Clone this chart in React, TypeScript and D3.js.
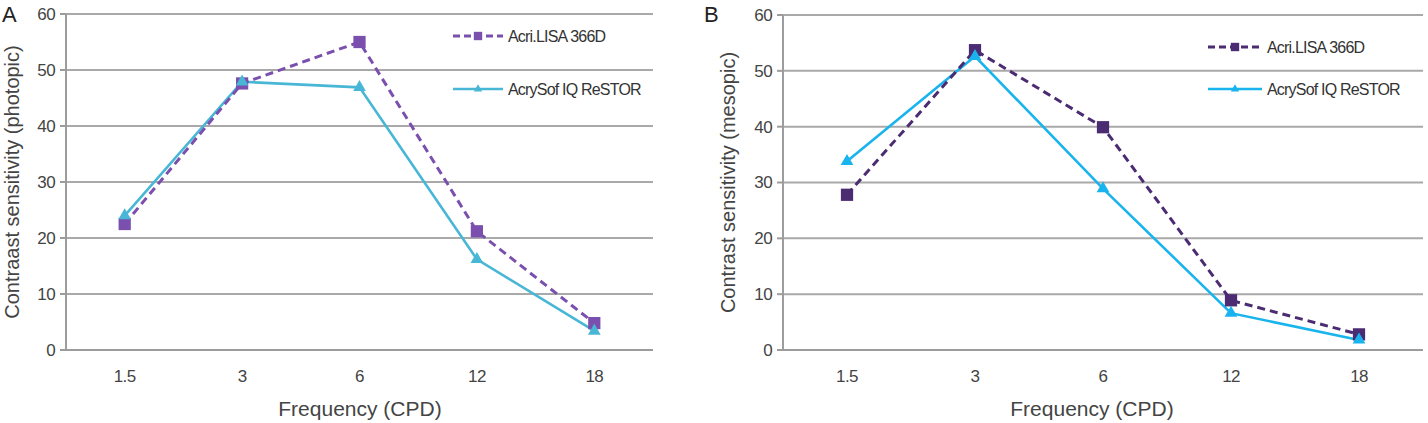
import React from "react";
import * as d3 from "d3";

// spatial frequencies (cycles per degree)
const frequencies = ["1.5", "3", "6", "12", "18"];
const yTicks = [0, 10, 20, 30, 40, 50, 60];
const seriesNames = ["Acri.LISA 366D", "AcrySof IQ ReSTOR"];

// panel A - photopic
const photopicAcri = [22.5, 47.6, 55, 21.2, 4.8];
const photopicRestor = [24, 47.9, 46.9, 16.2, 3.4];

// panel B - mesopic
const mesopicAcri = [27.8, 53.7, 39.9, 8.9, 2.8];
const mesopicRestor = [33.8, 52.6, 28.9, 6.6, 1.8];

const FONT = "'Liberation Sans', Arial, Helvetica, sans-serif";

type PanelProps = {
  label: string;
  labelX: number;
  yTitle: string;
  acri: number[];
  restor: number[];
  left: number;
  right: number;
  top: number;
  bottom: number;
  xTitleX: number;
  yTitleX: number;
  legend: { x0: number; x1: number; rows: number[] };
  acriColor: string;
  restorColor: string;
};

function Panel(p: PanelProps) {
  const x = d3.scaleBand().domain(frequencies).range([p.left, p.right]);
  const y = d3.scaleLinear().domain([0, 60]).range([p.bottom, p.top]);
  const cx = (i: number) => x(frequencies[i])! + x.bandwidth() / 2;

  const line = d3
    .line<number>()
    .x((_, i) => cx(i))
    .y((d) => y(d));

  const square = d3.symbol(d3.symbolSquare, 150)();
  const triangle = d3.symbol(d3.symbolTriangle, 70)();
  const smallSquare = d3.symbol(d3.symbolSquare, 70)();
  const smallTriangle = d3.symbol(d3.symbolTriangle, 30)();

  const midY = (p.top + p.bottom) / 2;
  const lg = p.legend;

  return (
    <g>
      <text x={p.labelX} y={22} fontSize={22} fill="#222" fontFamily={FONT}>
        {p.label}
      </text>

      {/* grid */}
      {yTicks.slice(1).map((t) => (
        <line key={t} x1={p.left} x2={p.right} y1={y(t)} y2={y(t)} stroke="#a9a9a9" strokeWidth={2} />
      ))}
      {/* axes */}
      <line x1={p.left} x2={p.left} y1={p.top} y2={p.bottom} stroke="#9c9c9c" strokeWidth={2} />
      <line x1={p.left - 6} x2={p.right} y1={p.bottom} y2={p.bottom} stroke="#9c9c9c" strokeWidth={2} />
      {yTicks.map((t) => (
        <g key={t}>
          <line x1={p.left - 6} x2={p.left} y1={y(t)} y2={y(t)} stroke="#9c9c9c" strokeWidth={2} />
          <text
            x={p.left - 11}
            y={y(t)}
            dy="0.35em"
            textAnchor="end"
            fontSize={17}
            letterSpacing={-0.6}
            fill="#444"
            fontFamily={FONT}
          >
            {t}
          </text>
        </g>
      ))}
      {frequencies.map((f, i) => (
        <text
          key={f}
          x={cx(i)}
          y={p.bottom + 32}
          textAnchor="middle"
          fontSize={17}
          letterSpacing={-0.6}
          fill="#444"
          fontFamily={FONT}
        >
          {f}
        </text>
      ))}

      {/* titles */}
      <text
        x={p.xTitleX}
        y={p.bottom + 66}
        textAnchor="middle"
        fontSize={21}
        fill="#444"
        fontFamily={FONT}
      >
        Frequency (CPD)
      </text>
      <text
        transform={`translate(${p.yTitleX},${midY}) rotate(-90)`}
        textAnchor="middle"
        fontSize={20}
        fill="#444"
        fontFamily={FONT}
      >
        {p.yTitle}
      </text>

      {/* series */}
      <path d={line(p.restor)!} fill="none" stroke={p.restorColor} strokeWidth={2.6} />
      <path d={line(p.acri)!} fill="none" stroke={p.acriColor} strokeWidth={3} strokeDasharray="8,5" />
      {p.acri.map((v, i) => (
        <path key={"a" + i} d={square!} transform={`translate(${cx(i)},${y(v)})`} fill={p.acriColor} />
      ))}
      {p.restor.map((v, i) => (
        <path key={"r" + i} d={triangle!} transform={`translate(${cx(i)},${y(v)})`} fill={p.restorColor} />
      ))}

      {/* legend */}
      <line x1={lg.x0} x2={lg.x1} y1={lg.rows[0]} y2={lg.rows[0]} stroke={p.acriColor} strokeWidth={3} strokeDasharray="7,4" />
      <path d={smallSquare!} transform={`translate(${(lg.x0 + lg.x1) / 2},${lg.rows[0]})`} fill={p.acriColor} />
      <line x1={lg.x0} x2={lg.x1} y1={lg.rows[1]} y2={lg.rows[1]} stroke={p.restorColor} strokeWidth={2.6} />
      <path d={smallTriangle!} transform={`translate(${(lg.x0 + lg.x1) / 2},${lg.rows[1]})`} fill={p.restorColor} />
      {seriesNames.map((n, i) => (
        <text
          key={n}
          x={lg.x1 + 5}
          y={lg.rows[i]}
          dy="0.35em"
          fontSize={16}
          letterSpacing={-0.8}
          fill="#333"
          fontFamily={FONT}
        >
          {n}
        </text>
      ))}
    </g>
  );
}

export default function App() {
  return (
    <svg
      width={1428}
      height={423}
      style={{ position: "absolute", left: 0, top: 0, background: "#fff" }}
    >
      <Panel
        label="A"
        labelX={2}
        yTitle="Contraast sensitivity (photopic)"
        acri={photopicAcri}
        restor={photopicRestor}
        left={66}
        right={653}
        top={14}
        bottom={350}
        xTitleX={360}
        yTitleX={19}
        legend={{ x0: 453, x1: 503, rows: [36, 89] }}
        acriColor="#7a4fad"
        restorColor="#48b7d6"
      />
      <Panel
        label="B"
        labelX={704}
        yTitle="Contrast sensitivity (mesopic)"
        acri={mesopicAcri}
        restor={mesopicRestor}
        left={783}
        right={1423}
        top={15}
        bottom={350}
        xTitleX={1092}
        yTitleX={735}
        legend={{ x0: 1208, x1: 1262, rows: [47, 89] }}
        acriColor="#4b2c72"
        restorColor="#19b4ee"
      />
    </svg>
  );
}
